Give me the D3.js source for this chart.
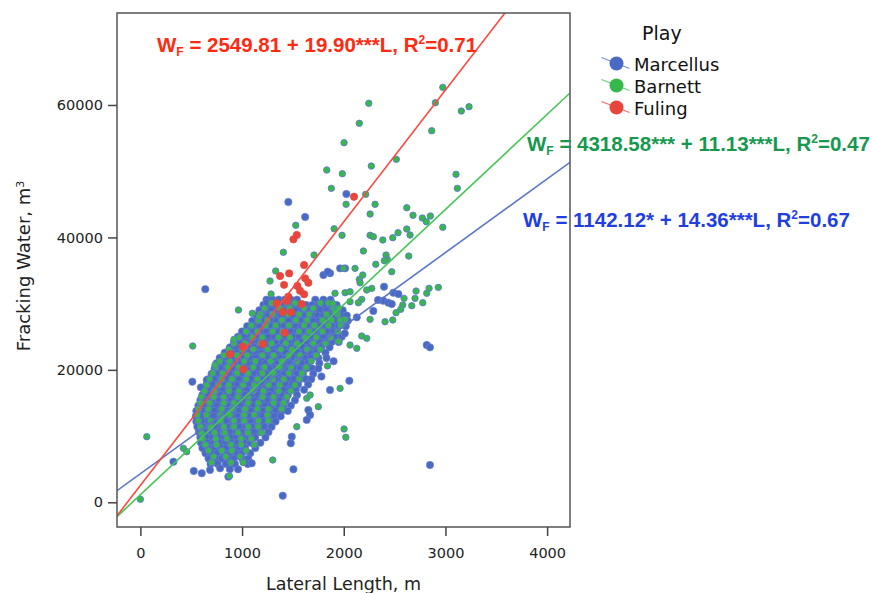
<!DOCTYPE html>
<html><head><meta charset="utf-8">
<script src="https://cdn.jsdelivr.net/npm/d3@7"></script>
<style>body{margin:0;background:#fff}</style>
</head><body><svg id="c" width="872" height="593"></svg>
<script>
// ---------- data ----------
const plays = ["Marcellus", "Barnett", "Fuling"];
const xTicks = [0, 1000, 2000, 3000, 4000];
const yTicks = [0, 20000, 40000, 60000];
const fitIntercepts = [4318.58, 1142.12, 2549.81];
const fitSlopes = [11.13, 14.36, 19.90];
const eqColors = ["#1f3fe0", "#16994f", "#ff2a12"];

// dense Marcellus rows: [y, x1, x2, ...]
const marcellusRows = [
 [30600,1240,1300,1360,1420,1480,1540,1720,1800,1870],
 [29800,1210,1270,1330,1390,1450,1510,1570,1630,1690,1750,1810,1870,1930],
 [29000,1170,1230,1290,1350,1410,1470,1530,1590,1650,1710,1770,1830,1890,1950,1990],
 [28200,1140,1200,1260,1320,1380,1440,1500,1560,1620,1680,1740,1800,1860,1920,1980,2030],
 [27400,1100,1160,1220,1280,1340,1400,1460,1520,1580,1640,1700,1760,1820,1880,1940,2040],
 [26600,1050,1110,1170,1230,1290,1350,1410,1470,1530,1590,1650,1710,1770,1830,1890,1950,2020],
 [25800,1000,1060,1120,1180,1240,1300,1360,1420,1480,1540,1600,1660,1720,1780,1840,1900],
 [25000,960,1020,1080,1140,1200,1260,1320,1380,1440,1500,1560,1620,1680,1740,1800,1860,1920,1980],
 [24200,920,980,1040,1100,1160,1220,1280,1340,1400,1460,1520,1580,1640,1700,1760,1820,1880,1950],
 [23400,880,940,1000,1060,1120,1180,1240,1300,1360,1420,1480,1540,1600,1660,1720,1780,1860],
 [22600,830,890,950,1010,1070,1130,1190,1250,1310,1370,1430,1490,1550,1610,1670,1730,1820],
 [21800,780,840,900,960,1020,1080,1140,1200,1260,1320,1380,1440,1500,1560,1620,1680,1750,1830],
 [21000,750,810,870,930,990,1050,1110,1170,1230,1290,1350,1410,1470,1530,1590,1650,1760],
 [20200,730,790,850,910,970,1030,1090,1150,1210,1270,1330,1390,1450,1510,1570,1630,1690,1750],
 [19400,700,760,820,880,940,1000,1060,1120,1180,1240,1300,1360,1420,1480,1540,1600,1700],
 [18600,670,730,790,850,910,970,1030,1090,1150,1210,1270,1330,1390,1450,1510,1570,1630,1680],
 [17800,650,710,770,830,890,950,1010,1070,1130,1190,1250,1310,1370,1430,1490,1550,1650],
 [17000,630,690,750,810,870,930,990,1050,1110,1170,1230,1290,1350,1410,1470,1530,1610],
 [16200,610,670,730,790,850,910,970,1030,1090,1150,1210,1270,1330,1390,1450,1540],
 [15400,590,650,710,770,830,890,950,1010,1070,1130,1190,1250,1310,1370,1430,1520],
 [14600,570,630,690,750,810,870,930,990,1050,1110,1170,1230,1290,1350,1410,1480],
 [13800,550,610,670,730,790,850,910,970,1030,1090,1150,1210,1270,1330,1390,1450],
 [13000,545,600,660,720,780,840,900,960,1020,1080,1140,1200,1260,1320,1380],
 [12200,550,610,670,730,790,850,910,970,1030,1090,1150,1210,1270,1330],
 [11400,560,620,680,740,800,860,920,980,1040,1100,1160,1220,1290],
 [10600,575,640,700,760,820,880,940,1000,1060,1120,1180,1260],
 [9800,590,650,710,770,830,890,950,1010,1070,1130,1230],
 [9000,595,660,720,780,840,900,960,1020,1080,1180],
 [8200,610,670,730,790,850,910,970,1030,1130],
 [7400,640,700,760,820,880,940,1000,1080],
 [6600,670,740,800,860,920,1000,1060],
 [5800,690,760,840,930],
 [5000,880,960]
];
// scattered Marcellus wells [x, y]
const marcellusPts = [
 [638,32190],[1455,45350],[1620,43080],[2026,46550],[511,18210],[653,18470],[594,17360],
 [1243,30140],[1865,34580],[2396,32560],[2488,31650],[2537,31450],[2389,30440],[2439,30140],
 [2472,29940],[2337,30550],[2291,28890],[2128,27930],[2816,23750],[2848,23400],[1400,1000],
 [1505,4980],[2848,5630],[2055,18360],[1865,16960],[1652,13940],[1669,13180],[1636,12440],
 [1489,9910],[1479,8910],[525,4730],[604,4380],[685,4880],[784,5130],[1056,5780],[1095,5890],
 [325,6130],[865,3870],[1800,34320],[1843,34820],[1964,35330],[2013,35330],[2010,25500],
 [1900,21300],[1780,19000]
];
// dense Barnett rows: [y, x1, x2, ...]
const barnettRows = [
 [30100,1290,1440,1520,1770,1850],
 [29300,1220,1370,1470,1610,1700,1900],
 [28400,1180,1300,1450,1560,1660,1830,1940],
 [27500,1160,1250,1390,1530,1640,1790,1880,2010],
 [26700,1090,1230,1330,1460,1610,1710,1850,1970],
 [25800,1040,1150,1300,1400,1560,1660,1790,1940],
 [24900,970,1100,1200,1360,1470,1620,1730,1870],
 [24000,920,1030,1180,1290,1430,1540,1700,1820],
 [23100,870,1000,1110,1250,1380,1490,1640,1770],
 [22200,820,950,1050,1200,1310,1460,1570,1730],
 [21300,780,880,1020,1130,1280,1390,1540,1680],
 [20400,740,860,970,1110,1220,1370,1480,1630],
 [19500,710,810,950,1060,1200,1310,1460,1590],
 [18600,680,800,900,1040,1150,1300,1410,1560],
 [17700,650,770,870,1010,1120,1260,1370,1520],
 [16800,630,730,870,970,1110,1210,1360,1480],
 [15900,600,720,820,960,1060,1200,1310,1440],
 [15000,590,680,820,920,1060,1160,1310,1410],
 [14100,570,670,800,900,1030,1150,1260,1390],
 [13200,560,650,790,880,1020,1120,1250],
 [12300,570,690,790,920,1020,1160,1260],
 [11400,590,690,820,920,1060,1160],
 [10500,600,730,830,960,1060,1190],
 [9600,610,740,850,990,1090],
 [8700,640,750,890,990,1120],
 [7800,670,800,900,1040],
 [6900,720,840,980],
 [6000,700,890,1010]
];
// scattered Barnett wells [x, y]
const barnettPts = [
 [2974,62660],[2901,60340],[3156,59090],[3232,59740],[2246,60250],[2153,57230],[2865,56110],
 [2003,54300],[2517,51790],[2271,50780],[1833,50180],[1986,49620],[3104,49530],[3117,47410],
 [1878,47410],[2216,46510],[2023,45000],[2308,45000],[2259,43530],[1528,41830],[2620,44480],
 [2681,43340],[2773,42930],[2852,43230],[2812,42370],[2974,41530],[1905,41310],[2620,41270],
 [2534,40710],[2652,40360],[2259,40320],[1983,40320],[2291,40110],[2384,39610],[2482,39960],
 [2193,37950],[2416,37340],[2429,36690],[2399,36480],[2639,37190],[2315,35940],[2472,34820],
 [2111,35330],[1996,35330],[2187,34320],[2153,33670],[2160,33160],[2275,32310],[2226,32060],
 [2711,31900],[2839,32310],[2930,32460],[2816,31560],[2593,30800],[2701,30800],[2777,30140],
 [2669,29690],[2580,29790],[2560,29140],[2514,28630],[2482,27530],[2406,27270],[2259,27630],
 [2013,31650],[2062,31800],[1914,31560],[2177,30650],[2144,30140],[2062,30290],[1892,30050],
 [1947,29290],[1914,28780],[2013,27630],[1964,27530],[2177,25110],[2226,24760],[2062,23750],
 [2128,23250],[63,9910],[0,450],[1302,6390],[2003,11070],[2020,9820],[1750,14440],[1964,17210],
 [1636,15700],[1669,16200],[1538,11420],[964,29040],[515,23600],[734,20730],[921,24610],
 [1101,28540],[1167,28030],[1285,31450],[1406,37750],[1708,37340],[1331,34930],[1275,33420],
 [877,3970],[423,8150],[456,7640],[1950,24300],[1840,20600]
];
// Fuling wells [x, y]
const fulingPts = [
 [2101,46150],[1505,39710],[1538,40360],[1610,35830],[1374,34170],[1463,34570],[1413,32840],
 [1544,32660],[1570,31950],[1610,31410],[1620,33820],[1652,33160],[1455,31050],[1440,30400],
 [1341,30050],[1587,29940],[1482,28690],[1400,28740],[1420,25610],[1203,23900],[1007,23500],
 [882,22350],[1013,20080]
];

// ---------- drawing ----------
const svg = d3.select("#c");
const pL = 117, pR = 570, pT = 13, pB = 527;
const x = d3.scaleLinear().domain([-230, 4225]).range([pL, pR]);
const y = d3.scaleLinear().domain([-3730, 73890]).range([pB, pT]);

const fill = ["#4a69c4", "#36b84a", "#e8453c"];
const lineCol = ["#5b76c8", "#45c553", "#fb4a3e"];

svg.append("defs").append("clipPath").attr("id", "pc")
  .append("rect").attr("x", pL).attr("y", pT).attr("width", pR - pL).attr("height", pB - pT);

const fromRows = rows => rows.flatMap(r => r.slice(1).map(v => [v, r[0]]));
const marc = fromRows(marcellusRows).concat(marcellusPts);
const barn = fromRows(barnettRows).concat(barnettPts);

const g = svg.append("g").attr("clip-path", "url(#pc)");
g.selectAll("circle.m").data(marc).join("circle").attr("class", "m")
  .attr("cx", d => x(d[0])).attr("cy", d => y(d[1])).attr("r", 3.7)
  .attr("fill", fill[0]).attr("stroke", "#6a84d2").attr("stroke-width", 0.6);
g.selectAll("circle.b").data(barn).join("circle").attr("class", "b")
  .attr("cx", d => x(d[0])).attr("cy", d => y(d[1])).attr("r", 3.2)
  .attr("fill", fill[1]).attr("stroke", "#5d79cf").attr("stroke-width", 0.9);
g.selectAll("circle.f").data(fulingPts).join("circle").attr("class", "f")
  .attr("cx", d => x(d[0])).attr("cy", d => y(d[1])).attr("r", 3.7)
  .attr("fill", fill[2]).attr("stroke", "#d84a40").attr("stroke-width", 0.6);

// fit lines
const xd = x.domain();
fitIntercepts.forEach((a, i) => {
  g.append("line")
    .attr("x1", x(xd[0])).attr("y1", y(a + fitSlopes[i] * xd[0]))
    .attr("x2", x(xd[1])).attr("y2", y(a + fitSlopes[i] * xd[1]))
    .attr("stroke", lineCol[i]).attr("stroke-width", 1.6);
});

// frame
svg.append("rect").attr("x", pL).attr("y", pT).attr("width", pR - pL).attr("height", pB - pT)
  .attr("fill", "none").attr("stroke", "#555").attr("stroke-width", 1.5);

// axes
const fnt = "DejaVu Sans, sans-serif";
const xa = svg.append("g").attr("transform", `translate(0,${pB})`)
  .call(d3.axisBottom(x).tickValues(xTicks).tickSize(9).tickPadding(12).tickFormat(d3.format("d")));
const ya = svg.append("g").attr("transform", `translate(${pL},0)`)
  .call(d3.axisLeft(y).tickValues(yTicks).tickSize(9).tickPadding(5).tickFormat(d3.format("d")));
[xa, ya].forEach(a => {
  a.select(".domain").remove();
  a.selectAll(".tick line").attr("stroke", "#444").attr("stroke-width", 1.5);
  a.selectAll(".tick text").attr("fill", "#222").style("font-family", fnt).style("font-size", "14.5px");
});

svg.append("text").attr("x", (pL + pR) / 2).attr("y", 590).attr("text-anchor", "middle")
  .style("font-family", fnt).style("font-size", "17.5px").attr("fill", "#222").text("Lateral Length, m");
const yt = svg.append("text").attr("transform", "translate(30,266) rotate(-90)")
  .attr("text-anchor", "middle").style("font-family", fnt).style("font-size", "18px").attr("fill", "#222");
yt.append("tspan").text("Fracking Water, m");
yt.append("tspan").attr("dy", -6).style("font-size", "11px").text("3");

// legend
svg.append("text").attr("x", 642).attr("y", 40).style("font-family", fnt).style("font-size", "19px")
  .attr("fill", "#111").text("Play");
plays.forEach((p, i) => {
  const cy = 63.5 + i * 22, cx = 616.5;
  svg.append("line").attr("x1", cx - 15).attr("y1", cy - 6).attr("x2", cx + 13).attr("y2", cy + 5)
    .attr("stroke", lineCol[i]).attr("stroke-width", 1.3).attr("opacity", 0.8);
  svg.append("circle").attr("cx", cx).attr("cy", cy).attr("r", 7).attr("fill", fill[i]);
  svg.append("text").attr("x", 634).attr("y", cy + 7).style("font-family", fnt).style("font-size", "18px")
    .attr("fill", "#111").text(p);
});

// equations
const eqs = [
  {x: 523, y: 227, mid: " = 1142.12* + 14.36***L, R", end: "=0.67", c: eqColors[0]},
  {x: 527, y: 151, mid: " = 4318.58*** + 11.13***L, R", end: "=0.47", c: eqColors[1]},
  {x: 157, y: 52, mid: " = 2549.81 + 19.90***L, R", end: "=0.71", c: eqColors[2]}
];
eqs.forEach(e => {
  const t = svg.append("text").attr("x", e.x).attr("y", e.y)
    .style("font-family", "Liberation Sans, Arial, sans-serif").style("font-weight", "bold")
    .style("font-size", "20.5px").attr("fill", e.c);
  t.append("tspan").text("W");
  t.append("tspan").attr("dy", 4).style("font-size", "12px").text("F");
  t.append("tspan").attr("dy", -4).text(e.mid);
  t.append("tspan").attr("dy", -8).style("font-size", "12px").text("2");
  t.append("tspan").attr("dy", 8).text(e.end);
});
</script></body></html>
